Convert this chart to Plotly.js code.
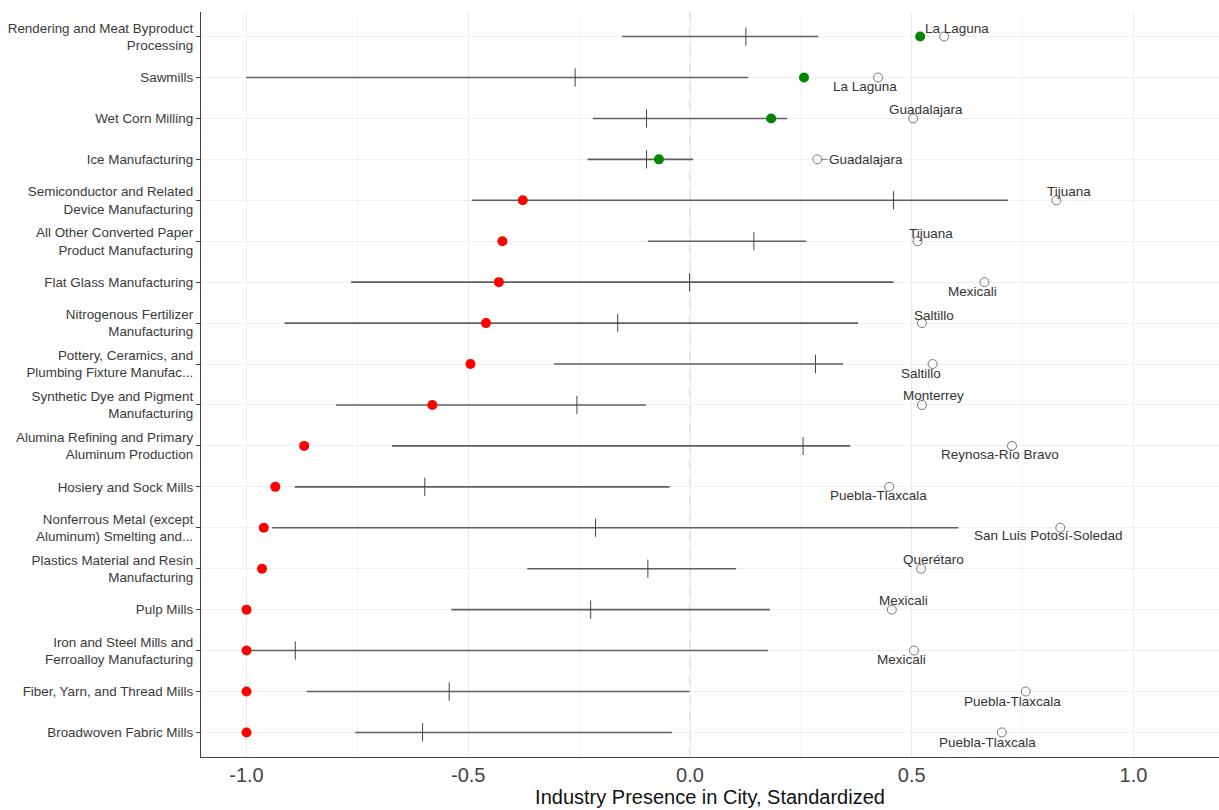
<!DOCTYPE html>
<html>
<head>
<meta charset="utf-8">
<script src="https://cdn.plot.ly/plotly-3.0.1.min.js"></script>
<style>html,body{margin:0;padding:0;background:#fff;}#chart{width:1219px;height:810px;}</style>
</head>
<body>
<div id="chart"></div>
<script>
// ---- data ----
const industries = [
  "Rendering and Meat Byproduct<br>Processing",
  "Sawmills",
  "Wet Corn Milling",
  "Ice Manufacturing",
  "Semiconductor and Related<br>Device Manufacturing",
  "All Other Converted Paper<br>Product Manufacturing",
  "Flat Glass Manufacturing",
  "Nitrogenous Fertilizer<br>Manufacturing",
  "Pottery, Ceramics, and<br>Plumbing Fixture Manufac...",
  "Synthetic Dye and Pigment<br>Manufacturing",
  "Alumina Refining and Primary<br>Aluminum Production",
  "Hosiery and Sock Mills",
  "Nonferrous Metal (except<br>Aluminum) Smelting and...",
  "Plastics Material and Resin<br>Manufacturing",
  "Pulp Mills",
  "Iron and Steel Mills and<br>Ferroalloy Manufacturing",
  "Fiber, Yarn, and Thread Mills",
  "Broadwoven Fabric Mills"
];
const cityValue = [0.519, 0.257, 0.183, -0.070, -0.377, -0.423, -0.431, -0.460, -0.495, -0.581, -0.870, -0.935, -0.961, -0.965, -1.0, -1.0, -1.0, -1.0];
const rangeLow  = [-0.153, -1.0, -0.219, -0.231, -0.492, -0.095, -0.764, -0.914, -0.307, -0.798, -0.672, -0.891, -0.942, -0.367, -0.538, -1.0, -0.864, -0.755];
const rangeHigh = [0.289, 0.131, 0.219, 0.007, 0.717, 0.262, 0.459, 0.379, 0.345, -0.099, 0.361, -0.046, 0.605, 0.104, 0.180, 0.176, -0.001, -0.041];
const meanValue = [0.126, -0.259, -0.098, -0.098, 0.459, 0.144, -0.001, -0.163, 0.283, -0.255, 0.255, -0.598, -0.213, -0.095, -0.224, -0.890, -0.543, -0.603];
const topCityValue = [0.573, 0.424, 0.503, 0.287, 0.826, 0.513, 0.664, 0.523, 0.547, 0.523, 0.726, 0.449, 0.835, 0.521, 0.455, 0.505, 0.757, 0.703];
const topCity = ["La Laguna", "La Laguna", "Guadalajara", "Guadalajara", "Tijuana", "Tijuana", "Mexicali", "Saltillo", "Saltillo", "Monterrey", "Reynosa-Río Bravo", "Puebla-Tlaxcala", "San Luis Potosí-Soledad", "Querétaro", "Mexicali", "Mexicali", "Puebla-Tlaxcala", "Puebla-Tlaxcala"];
const xTickVals = [-1, -0.5, 0, 0.5, 1];
const xTickText = ["-1.0", "-0.5", "0.0", "0.5", "1.0"];

// ---- layout helpers (label placement, pixels) ----
const labelShift = [[13,-8],[-13,9],[13,-9],[49,0],[13,-9],[13,-8],[-12,9],[12,-8],[-12,9],[12,-9],[-12,9],[-11,9],[-12,8],[12,-9],[12,-9],[-12,9],[-13,10],[-14,10]];

const FONT = "Liberation Sans, Arial, sans-serif";

// range segments
const segX = [], segY = [];
industries.forEach((c, i) => { segX.push(rangeLow[i], rangeHigh[i], null); segY.push(c, c, null); });

const traces = [
  { type: "scatter", mode: "lines", x: segX, y: segY, line: { color: "#5f5f5f", width: 1.6 }, hoverinfo: "skip", showlegend: false },
  { type: "scatter", mode: "markers", x: meanValue, y: industries,
    marker: { symbol: "line-ns", size: 13, line: { color: "#444", width: 1 } }, showlegend: false },
  { type: "scatter", mode: "markers", x: topCityValue, y: industries,
    marker: { symbol: "circle-open", size: 9, color: "#777", line: { color: "#777", width: 1 } }, showlegend: false },
  { type: "scatter", mode: "markers", x: cityValue, y: industries,
    marker: { symbol: "circle", size: 10, color: cityValue.map((v, i) => v > meanValue[i] ? "#008600" : "#ff0000") }, showlegend: false }
];

const annotations = topCity.map((name, i) => {
  const s = labelShift[i];
  const a = { x: topCityValue[i], y: industries[i], xref: "x", yref: "y", text: name,
    font: { family: FONT, size: 13.5, color: "#333" } };
  if (i === 3) {
    Object.assign(a, { showarrow: true, ax: s[0], ay: s[1], arrowhead: 0, arrowwidth: 0.8, arrowcolor: "#666", standoff: 4 });
  } else {
    Object.assign(a, { showarrow: false, xshift: s[0], yshift: -s[1] });
  }
  return a;
});

const layout = {
  width: 1219, height: 810,
  margin: { l: 201, r: 0, t: 12, b: 53 },
  paper_bgcolor: "#fff", plot_bgcolor: "#fff",
  font: { family: FONT, color: "#333" },
  showlegend: false,
  xaxis: {
    range: [-1.1026, 1.1928],
    tickvals: xTickVals, ticktext: xTickText,
    tickfont: { family: FONT, size: 20, color: "#444" },
    ticks: "", showline: true, linecolor: "#444", linewidth: 1.2,
    showgrid: true, gridcolor: "#ebebeb", gridwidth: 1,
    minor: { tickvals: [-0.75, -0.25, 0.25, 0.75], showgrid: true, gridcolor: "#f5f5f5", gridwidth: 1 },
    zeroline: false,
    title: { text: "Industry Presence in City, Standardized", font: { family: FONT, size: 20, color: "#111" }, standoff: 4 }
  },
  yaxis: {
    type: "category", categoryorder: "array", categoryarray: industries,
    range: [17.6, -0.6],
    tickfont: { family: FONT, size: 13.4, color: "#3a3a3a" },
    ticks: "outside", ticklen: 4, tickcolor: "#444",
    showline: true, linecolor: "#444", linewidth: 1.2,
    showgrid: true, gridcolor: "#f0f0f0", zeroline: false
  },
  shapes: [
    { type: "line", xref: "x", yref: "paper", x0: 0, x1: 0, y0: 0, y1: 1, layer: "below",
      line: { color: "#c8c8c8", width: 1, dash: "dash" } }
  ],
  annotations: annotations
};

Plotly.newPlot("chart", traces, layout, { displayModeBar: false, staticPlot: true });
</script>
</body>
</html>
